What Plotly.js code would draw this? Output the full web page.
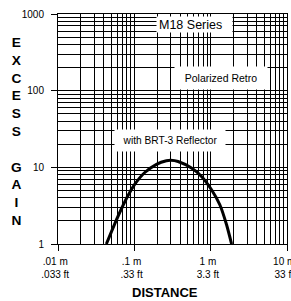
<!DOCTYPE html>
<html>
<head>
<meta charset="utf-8">
<script src="https://cdn.plot.ly/plotly-3.0.1.min.js"></script>
<style>html,body{margin:0;padding:0;background:#fff;}#chart{width:291px;height:301px;}</style>
</head>
<body>
<div id="chart"></div>
<script>
// Excess gain curve (distance in metres, gain)
var distance = [0.043, 0.0552, 0.0676, 0.0824, 0.101, 0.137, 0.195, 0.263, 0.30,  0.374, 0.561, 0.759, 1.026, 1.318, 1.616, 1.88];
var gain     = [1.0,   1.82,   2.86,   4.25,   5.98,  8.56,  10.95, 12.17, 12.35, 11.9,  9.77,  7.6,   5.10,  3.25,  1.78,  1.0];

var xTickVals = [0.01, 0.1, 1, 10];
var xTickMetric = [".01 m", ".1 m", "1 m", "10 m"];
var xTickFeet = [".033 ft", ".33 ft", "3.3 ft", "33 ft"];
var yTickVals = [1, 10, 100, 1000];
var yTickText = ["1", "10", "100", "1000"];

var seriesLabel = "M18 Series";
var modeLabel = "Polarized Retro";
var reflectorLabel = "with BRT-3 Reflector";
var yTitleLetters = ["E","X","C","E","S","S","","G","A","I","N"];
var xTitle = "DISTANCE";

var sans = "Liberation Sans, Arial, sans-serif";
var pad = "\u00a0\u00a0";

var xTickText = xTickMetric.map(function(m, i){ return m + pad + "<br>" + xTickFeet[i] + pad; });

var trace = {
  x: distance, y: gain, type: "scatter", mode: "lines",
  line: {color: "#000", width: 3, shape: "spline", smoothing: 0.6},
  hoverinfo: "skip", showlegend: false
};

var layout = {
  width: 291, height: 301,
  margin: {l: 58, r: 4, t: 14, b: 57, pad: 0},
  paper_bgcolor: "#fff", plot_bgcolor: "#fff",
  font: {family: sans, size: 10, color: "#000"},
  xaxis: {
    type: "log", range: [-2, 1],
    tickvals: xTickVals, ticktext: xTickText,
    ticks: "outside", ticklen: 6, tickcolor: "#000", tickwidth: 1,
    showgrid: true, gridcolor: "#000", gridwidth: 1,
    minor: {dtick: "D1", showgrid: true, gridcolor: "#000", gridwidth: 1, ticks: ""},
    showline: true, linecolor: "#000", linewidth: 1, mirror: true,
    zeroline: false, ticklabeloverflow: "allow", ticklabelstandoff: 2,
    tickfont: {family: sans, size: 10, color: "#000"}
  },
  yaxis: {
    type: "log", range: [0, 3],
    tickvals: yTickVals, ticktext: yTickText,
    ticks: "outside", ticklen: 6, tickcolor: "#000", tickwidth: 1,
    showgrid: true, gridcolor: "#000", gridwidth: 1,
    minor: {dtick: "D1", showgrid: true, gridcolor: "#000", gridwidth: 1, ticks: ""},
    showline: true, linecolor: "#000", linewidth: 1, mirror: true,
    zeroline: false, ticklabelstandoff: 5,
    tickfont: {family: sans, size: 10, color: "#000"}
  },
  annotations: [
    {xref: "paper", yref: "paper", x: 0.596, y: 0.953, xanchor: "center", yanchor: "middle",
     text: seriesLabel, showarrow: false, bgcolor: "#fff", width: 71, height: 11, borderpad: 2,
     align: "left", font: {family: sans, size: 12.5, color: "#000"}},
    {xref: "paper", yref: "paper", x: 0.712, y: 0.7196, xanchor: "center", yanchor: "middle",
     text: modeLabel, showarrow: false, bgcolor: "#fff", width: 92, height: 22, borderpad: 0,
     font: {family: sans, size: 10.5, color: "#000"}},
    {xref: "paper", yref: "paper", x: 0.489, y: 0.45, xanchor: "center", yanchor: "middle",
     text: reflectorLabel, showarrow: false, bgcolor: "#fff", width: 110, height: 21, borderpad: 0,
     font: {family: sans, size: 10.2, color: "#000"}},
    {xref: "paper", yref: "paper", x: -0.183, y: 0.487, xanchor: "center", yanchor: "middle",
     text: yTitleLetters.join("<br>"), showarrow: false,
     font: {family: sans, size: 13.7, color: "#000", weight: "bold"}},
    {xref: "paper", yref: "paper", x: 0.469, y: -0.2087, xanchor: "center", yanchor: "middle",
     text: "<b>" + xTitle + "</b>", showarrow: false,
     font: {family: sans, size: 13, color: "#000"}}
  ]
};

Plotly.newPlot("chart", [trace], layout, {displayModeBar: false, staticPlot: true});
</script>
</body>
</html>
